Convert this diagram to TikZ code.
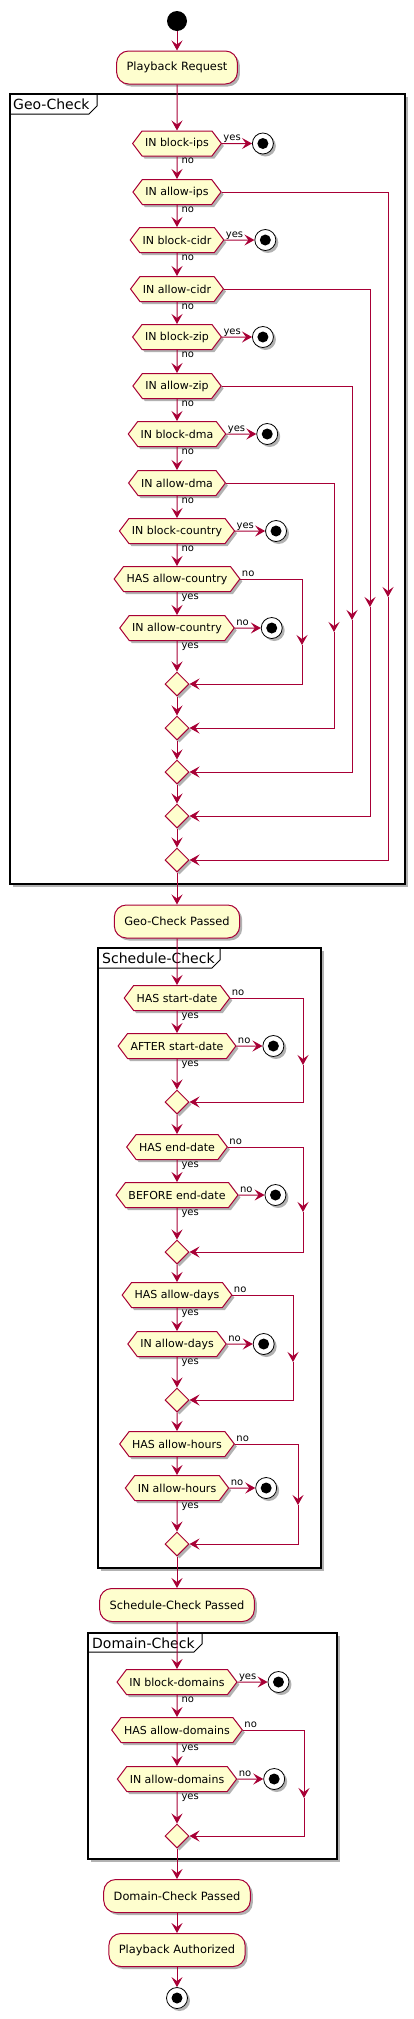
\documentclass[tikz,border=0pt]{standalone}
\usepackage{fontspec}
\setmainfont{DejaVu Sans}
\usepackage{tikz}
\usetikzlibrary{arrows.meta,positioning,shapes.geometric,shapes.symbols,shadows}
\usepackage{xcolor}
\definecolor{pumlred}{HTML}{A80036}
\definecolor{pumlfill}{HTML}{FEFECE}

\begin{document}
\begin{tikzpicture}[
    x=1pt, y=-1pt,
    pumlshadow/.style={drop shadow={shadow xshift=2.5pt, shadow yshift=-2.5pt, opacity=0.3, fill=black}},
    action/.style={draw=pumlred, fill=pumlfill, line width=1pt, rounded corners=12pt, minimum height=33pt, inner xsep=10pt, align=center, font=\fontsize{11.4}{13}\selectfont, pumlshadow},
    check/.style={signal, signal to=east and west, signal pointer angle=106, draw=pumlred, fill=pumlfill, line width=1pt, minimum height=25pt, inner xsep=3pt, inner ysep=2pt, font=\fontsize{11}{13}\selectfont, pumlshadow},
    merge/.style={diamond, draw=pumlred, fill=pumlfill, line width=1pt, minimum size=24pt, inner sep=0pt, pumlshadow},
    startdot/.style={circle, fill=black, minimum size=20pt, inner sep=0pt},
    stopdot/.style={circle, draw=black, fill=white, line width=0.8pt, minimum size=21pt, inner sep=0pt, pumlshadow, path picture={\fill[black] (path picture bounding box.center) circle (5.5pt);}},
    partition/.style={draw=black, line width=1.5pt, fill=white, pumlshadow},
    tab/.style={draw=black, line width=1pt},
    grouptitle/.style={anchor=west, inner sep=0pt, font=\fontsize{14}{16}\selectfont},
    flow/.style={-{Stealth[length=10pt, width=11pt, inset=4pt]}, draw=pumlred, line width=1pt},
    lbl/.style={font=\fontsize{10}{12}\selectfont, inner sep=1pt, text=black},
    sidelbl/.style={lbl, pos=0, anchor=base west, yshift=3pt},
    belowlbl/.style={lbl, pos=0, anchor=north west, xshift=3pt}
  ]
  \useasboundingbox (0,0) rectangle (414,2019);

  % Frames
  \draw[partition] (10,94) rectangle (405,884);
  \draw[tab] (10,114) -- (89,114) -- (97,106) -- (97,94);
  \node[grouptitle] (geo_t) at (13,104) {Geo-Check};

  \draw[partition] (98,948) rectangle (321,1568);
  \draw[tab] (98,968) -- (212,968) -- (220,960) -- (220,948);
  \node[grouptitle] (sched_t) at (102,958) {Schedule-Check};

  \draw[partition] (88,1633) rectangle (337,1859);
  \draw[tab] (88,1652) -- (194,1652) -- (202,1644) -- (202,1633);
  \node[grouptitle] (dom_t) at (92,1643) {Domain-Check};

  % Start
  \node[startdot] (start) at (177,21) {};
  \node[action] (req) at (177,67.5) {Playback Request};

  % Geo checks
  \node[check] (ips_b) at (177,143.5) {IN block-ips};
  \node[check] (ips_a) at (177,192) {IN allow-ips};
  \node[check] (cidr_b) at (177,240) {IN block-cidr};
  \node[check] (cidr_a) at (177,289) {IN allow-cidr};
  \node[check] (zip_b) at (177,337) {IN block-zip};
  \node[check] (zip_a) at (177,386) {IN allow-zip};
  \node[check] (dma_b) at (177,434) {IN block-dma};
  \node[check] (dma_a) at (177,483) {IN allow-dma};
  \node[check] (cty_b) at (177,531) {IN block-country};
  \node[check] (cty_h) at (177,579) {HAS allow-country};
  \node[check] (cty_a) at (177,628) {IN allow-country};
  \node[merge] (m1) at (177,684) {};
  \node[merge] (m2) at (177,728) {};
  \node[merge] (m3) at (177,772) {};
  \node[merge] (m4) at (177,816) {};
  \node[merge] (m5) at (177,860) {};

  \node[stopdot, right=30pt of ips_b] (ips_x) {};
  \node[stopdot, right=30pt of cidr_b] (cidr_x) {};
  \node[stopdot, right=30pt of zip_b] (zip_x) {};
  \node[stopdot, right=30pt of dma_b] (dma_x) {};
  \node[stopdot, right=30pt of cty_b] (cty_xb) {};
  \node[stopdot, right=26pt of cty_a] (cty_xa) {};

  \node[action] (geo_ok) at (177,921.5) {Geo-Check Passed};

  % Schedule checks
  \node[check] (sd_h) at (177,998) {HAS start-date};
  \node[check] (sd_a) at (177,1046) {AFTER start-date};
  \node[merge] (ms1) at (177,1102) {};
  \node[check] (ed_h) at (177,1147) {HAS end-date};
  \node[check] (ed_b) at (177,1195) {BEFORE end-date};
  \node[merge] (ms2) at (177,1252) {};
  \node[check] (dy_h) at (177,1295) {HAS allow-days};
  \node[check] (dy_a) at (177,1344) {IN allow-days};
  \node[merge] (ms3) at (177,1400) {};
  \node[check] (hr_h) at (177,1444) {HAS allow-hours};
  \node[check] (hr_a) at (177,1488) {IN allow-hours};
  \node[merge] (ms4) at (177,1544) {};

  \node[stopdot, right=26pt of sd_a] (sd_x) {};
  \node[stopdot, right=26pt of ed_b] (ed_x) {};
  \node[stopdot, right=26pt of dy_a] (dy_x) {};
  \node[stopdot, right=26pt of hr_a] (hr_x) {};

  \node[action] (sched_ok) at (177,1605) {Schedule-Check Passed};

  % Domain checks
  \node[check] (dom_b) at (177,1682) {IN block-domains};
  \node[check] (dom_h) at (177,1730) {HAS allow-domains};
  \node[check] (dom_a) at (177,1779) {IN allow-domains};
  \node[merge] (md1) at (177,1836) {};

  \node[stopdot, right=30pt of dom_b] (dom_xb) {};
  \node[stopdot, right=26pt of dom_a] (dom_xa) {};

  \node[action] (dom_ok) at (177,1896) {Domain-Check Passed};
  \node[action] (auth) at (177,1950) {Playback Authorized};
  \node[stopdot] (end) at (177,1998) {};

  % Bends of the right branches
  \coordinate (ips_k) at (388,597);
  \coordinate (cidr_k) at (370,607);
  \coordinate (zip_k) at (352,620);
  \coordinate (dma_k) at (334,632);
  \coordinate (cty_k) at (302,645);
  \coordinate (sd_k) at (303,1065);
  \coordinate (ed_k) at (303,1212);
  \coordinate (dy_k) at (293,1362);
  \coordinate (hr_k) at (298,1505);
  \coordinate (dom_k) at (304,1798);

  % Connections
  \draw[flow] (start) -- (req);
  \draw[flow] (req) -- (ips_b);

  \draw[flow] (ips_b) -- node[sidelbl] {yes} (ips_x);
  \draw[flow] (ips_b) -- node[belowlbl] {no} (ips_a);
  \draw[flow] (ips_a) -- node[belowlbl] {no} (cidr_b);
  \draw[flow] (cidr_b) -- node[sidelbl] {yes} (cidr_x);
  \draw[flow] (cidr_b) -- node[belowlbl] {no} (cidr_a);
  \draw[flow] (cidr_a) -- node[belowlbl] {no} (zip_b);
  \draw[flow] (zip_b) -- node[sidelbl] {yes} (zip_x);
  \draw[flow] (zip_b) -- node[belowlbl] {no} (zip_a);
  \draw[flow] (zip_a) -- node[belowlbl] {no} (dma_b);
  \draw[flow] (dma_b) -- node[sidelbl] {yes} (dma_x);
  \draw[flow] (dma_b) -- node[belowlbl] {no} (dma_a);
  \draw[flow] (dma_a) -- node[belowlbl] {no} (cty_b);
  \draw[flow] (cty_b) -- node[sidelbl] {yes} (cty_xb);
  \draw[flow] (cty_b) -- node[belowlbl] {no} (cty_h);
  \draw[flow] (cty_h) -- node[belowlbl] {yes} (cty_a);
  \draw[flow] (cty_a) -- node[sidelbl] {no} (cty_xa);
  \draw[flow] (cty_a) -- node[belowlbl] {yes} (m1);

  \draw[flow] (ips_a.east) -| (ips_k);
  \draw[flow] (ips_k) |- (m5.east);
  \draw[flow] (cidr_a.east) -| (cidr_k);
  \draw[flow] (cidr_k) |- (m4.east);
  \draw[flow] (zip_a.east) -| (zip_k);
  \draw[flow] (zip_k) |- (m3.east);
  \draw[flow] (dma_a.east) -| (dma_k);
  \draw[flow] (dma_k) |- (m2.east);
  \draw[flow] (cty_h.east) -| node[sidelbl] {no} (cty_k);
  \draw[flow] (cty_k) |- (m1.east);

  \draw[flow] (m1) -- (m2);
  \draw[flow] (m2) -- (m3);
  \draw[flow] (m3) -- (m4);
  \draw[flow] (m4) -- (m5);
  \draw[flow] (m5) -- (geo_ok);
  \draw[flow] (geo_ok) -- (sd_h);

  \draw[flow] (sd_h) -- node[belowlbl] {yes} (sd_a);
  \draw[flow] (sd_a) -- node[sidelbl] {no} (sd_x);
  \draw[flow] (sd_a) -- node[belowlbl] {yes} (ms1);
  \draw[flow] (sd_h.east) -| node[sidelbl] {no} (sd_k);
  \draw[flow] (sd_k) |- (ms1.east);
  \draw[flow] (ms1) -- (ed_h);

  \draw[flow] (ed_h) -- node[belowlbl] {yes} (ed_b);
  \draw[flow] (ed_b) -- node[sidelbl] {no} (ed_x);
  \draw[flow] (ed_b) -- node[belowlbl] {yes} (ms2);
  \draw[flow] (ed_h.east) -| node[sidelbl] {no} (ed_k);
  \draw[flow] (ed_k) |- (ms2.east);
  \draw[flow] (ms2) -- (dy_h);

  \draw[flow] (dy_h) -- node[belowlbl] {yes} (dy_a);
  \draw[flow] (dy_a) -- node[sidelbl] {no} (dy_x);
  \draw[flow] (dy_a) -- node[belowlbl] {yes} (ms3);
  \draw[flow] (dy_h.east) -| node[sidelbl] {no} (dy_k);
  \draw[flow] (dy_k) |- (ms3.east);
  \draw[flow] (ms3) -- (hr_h);

  \draw[flow] (hr_h) -- (hr_a);
  \draw[flow] (hr_a) -- node[sidelbl] {no} (hr_x);
  \draw[flow] (hr_a) -- node[belowlbl] {yes} (ms4);
  \draw[flow] (hr_h.east) -| node[sidelbl] {no} (hr_k);
  \draw[flow] (hr_k) |- (ms4.east);
  \draw[flow] (ms4) -- (sched_ok);
  \draw[flow] (sched_ok) -- (dom_b);

  \draw[flow] (dom_b) -- node[sidelbl] {yes} (dom_xb);
  \draw[flow] (dom_b) -- node[belowlbl] {no} (dom_h);
  \draw[flow] (dom_h) -- node[belowlbl] {yes} (dom_a);
  \draw[flow] (dom_a) -- node[sidelbl] {no} (dom_xa);
  \draw[flow] (dom_a) -- node[belowlbl] {yes} (md1);
  \draw[flow] (dom_h.east) -| node[sidelbl] {no} (dom_k);
  \draw[flow] (dom_k) |- (md1.east);
  \draw[flow] (md1) -- (dom_ok);
  \draw[flow] (dom_ok) -- (auth);
  \draw[flow] (auth) -- (end);

\end{tikzpicture}
\end{document}
